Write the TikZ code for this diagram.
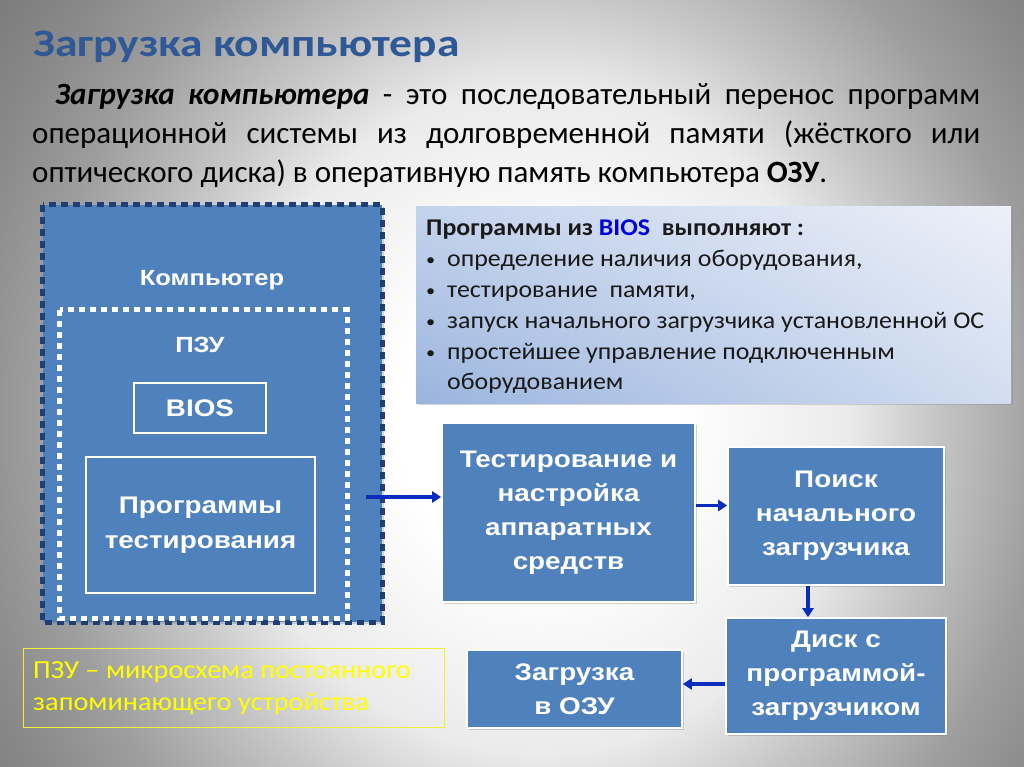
\documentclass[tikz,border=0pt]{standalone}
\usepackage{fontspec}
\setmainfont{Carlito}
\newfontfamily\arialf[FakeStretch=1.16]{Liberation Sans}
\newfontfamily\titlef[FakeStretch=1.165]{Carlito}
\newfontfamily\infof[FakeStretch=1.08]{Carlito}
\newfontfamily\notef[FakeStretch=1.09]{Carlito}
\usetikzlibrary{shadows,arrows.meta,shadings}
\definecolor{boxblue}{RGB}{79,129,189}
\definecolor{navy}{RGB}{31,63,115}
\definecolor{titleblue}{RGB}{46,88,150}
\definecolor{arrblue}{RGB}{10,45,190}
\definecolor{biosblue}{RGB}{0,0,220}
\definecolor{infoUL}{RGB}{196,211,236}
\definecolor{infoUR}{RGB}{236,240,248}
\definecolor{infoLL}{RGB}{155,180,222}
\definecolor{infoLR}{RGB}{210,222,240}
\definecolor{noteyellow}{RGB}{255,255,0}
\definecolor{noteframe}{RGB}{240,240,60}
\pgfdeclareradialshading{bgshade}{\pgfpoint{0bp}{0bp}}{color(0bp)=(white); color(5bp)=(white); color(11bp)=(black!8); color(14bp)=(black!22); color(18bp)=(black!38); color(21bp)=(black!46); color(25bp)=(black!54); color(50bp)=(black!54)}
\tikzset{
  flow/.style={draw=white, line width=1.6pt, fill=boxblue, text=white, align=center, inner sep=0pt,
    font=\arialf\bfseries\fontsize{24}{34}\selectfont,
    drop shadow={opacity=0.35, shadow xshift=2pt, shadow yshift=-2pt}},
  whitebox/.style={draw=white, line width=2.5pt, fill=boxblue, text=white, align=center, inner sep=0pt,
    font=\arialf\bfseries\fontsize{24}{35}\selectfont,
    drop shadow={opacity=0.3, shadow xshift=1.5pt, shadow yshift=-1.5pt}},
  lbl/.style={text=white, font=\arialf\bfseries\fontsize{22}{26}\selectfont, inner sep=0pt},
  arr/.style={draw=arrblue, line width=3.2pt, -{Triangle[width=11pt,length=9pt]}},
}
\newcommand{\bulitem}{\makebox[21pt][l]{\raisebox{1pt}{\fontsize{17}{17}\selectfont •}}}
\begin{document}
\begin{tikzpicture}[x=1pt,y=-1pt]
\useasboundingbox (0,0) rectangle (1024,767);
\begin{scope}
\clip (0,0) rectangle (1024,767);
\shade[shading=bgshade] (540,420) ellipse [x radius=700, y radius=760];
\end{scope}
% title
\node[anchor=base west, inner sep=0pt, text=titleblue, font=\titlef\bfseries\fontsize{39}{44}\selectfont] (title) at (33,57) {Загрузка компьютера};
% paragraph
\node[anchor=north west, inner sep=0pt, text width=948pt, align=justify, font=\fontsize{31}{39}\selectfont] (para) at (32,83)
{\hspace*{23pt}\textbf{\textit{Загрузка компьютера}} - это последовательный перенос программ\linebreak операционной системы из долговременной памяти (жёсткого или\linebreak оптического диска) в оперативную память компьютера \textbf{ОЗУ}.};
% computer box
\node[fill=boxblue, minimum width=339pt, minimum height=417pt, inner sep=0pt,
  drop shadow={opacity=0.3, shadow xshift=2pt, shadow yshift=-2pt}] (comp) at (212.5,413.5) {};
\draw[navy, line width=5pt, dash pattern=on 7pt off 5pt] (comp.north west) rectangle (comp.south east);
\node[lbl] (complbl) at (212,280) {Компьютер};
\node[fill=boxblue, minimum width=287pt, minimum height=308pt, inner sep=0pt] (pzu) at (203.5,464) {};
\draw[white, line width=5pt, dash pattern=on 6pt off 5pt] (pzu.north west) rectangle (pzu.south east);
\node[lbl] (pzulbl) at (200,345) {ПЗУ};
\node[whitebox, minimum width=132pt, minimum height=50pt] (bios) at (200,408) {BIOS};
\node[whitebox, minimum width=229pt, minimum height=136pt] (prog) at (200.5,525) {Программы\\тестирования};
% info box
\shade[upper left=infoUL, upper right=infoUR, lower left=infoLL, lower right=infoLR,
  drop shadow={opacity=0.3, shadow xshift=2pt, shadow yshift=-2pt}] (416,207) rectangle (1011,403);
\node[anchor=north west, inner sep=0pt, align=left, text=black!90, font=\infof\fontsize{24}{30.8}\selectfont] (info) at (426,220)
{\textbf{Программы из \textcolor{biosblue}{BIOS}\ \ выполняют :}\\
\bulitem определение наличия оборудования,\\
\bulitem тестирование\ \ памяти,\\
\bulitem запуск начального загрузчика установленной ОС\\
\bulitem простейшее управление подключенным\\
\hspace*{21pt}оборудованием};
% flow boxes
\node[flow, minimum width=253pt, minimum height=179pt] (A) at (568.5,512.5) {Тестирование и\\настройка\\аппаратных\\средств};
\node[flow, minimum width=216pt, minimum height=138pt] (B) at (836,516) {Поиск\\начального\\загрузчика};
\node[flow, minimum width=220pt, minimum height=116pt] (C) at (836,676) {Диск с\\программой-\\загрузчиком};
\node[flow, minimum width=215pt, minimum height=78pt] (D) at (574.5,689) {Загрузка\\в ОЗУ};
% yellow note
\node[draw=noteframe, line width=1pt, minimum width=421pt, minimum height=79pt, inner sep=0pt] (note) at (233.5,687.5) {};
\node[anchor=west, inner sep=0pt, align=left, text=noteyellow, font=\notef\fontsize{26}{32}\selectfont] (notetxt) at (33,688)
{ПЗУ – микросхема постоянного\\запоминающего устройства};
% arrows
\coordinate (a1s) at (366,497);
\draw[arr] (a1s) -- (a1s -| A.west);
\draw[arr] ([yshift=7pt]A.east) -- ([yshift=7pt]A.east -| B.west);
\draw[arr] ([xshift=-28pt]B.south) -- ([xshift=-28pt]B.south |- C.north);
\draw[arr] ([yshift=-8pt]C.west) -- ([yshift=-8pt]C.west -| D.east);
\end{tikzpicture}
\end{document}
